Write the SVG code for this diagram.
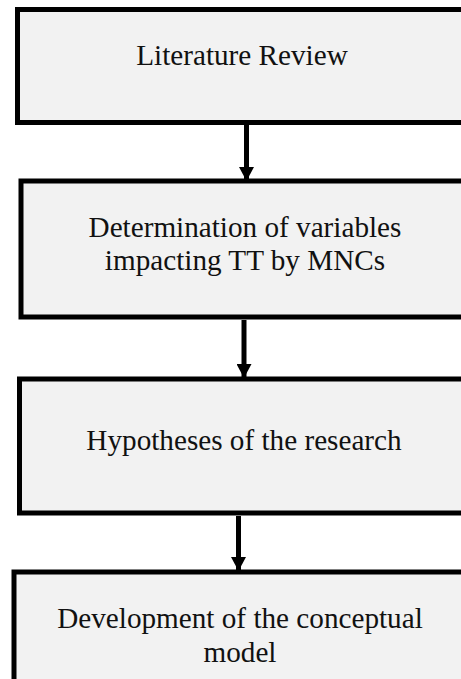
<svg xmlns="http://www.w3.org/2000/svg" width="461" height="679" viewBox="0 0 461 679">
<style>
.box{fill:#f2f2f2;stroke:#000;stroke-width:5}
.lbl{font-family:"Liberation Serif","Times New Roman",serif;font-size:29.2px;fill:#111;text-anchor:middle}
.conn{stroke:#000;stroke-width:5;fill:none}
</style>
<defs>
<marker id="ah" markerUnits="userSpaceOnUse" markerWidth="16" markerHeight="15" refX="14" refY="7.5" orient="auto">
<path d="M0,0 L14,7.5 L0,15 Z" fill="#000"/>
</marker>
</defs>
<rect width="461" height="679" fill="#fff"/>
<g id="node1"><rect class="box" x="17.5" y="9.5" width="470" height="113"/><text class="lbl" x="242" y="65">Literature Review</text></g>
<g id="node2"><rect class="box" x="21" y="181" width="470" height="136"/><text class="lbl" x="245" y="237">Determination of variables</text><text class="lbl" x="245" y="270">impacting TT by MNCs</text></g>
<g id="node3"><rect class="box" x="19.5" y="379" width="470" height="134"/><text class="lbl" x="244" y="450">Hypotheses of the research</text></g>
<g id="node4"><rect class="box" x="14" y="572" width="470" height="200"/><text class="lbl" x="240" y="628">Development of the conceptual</text><text class="lbl" x="240" y="662">model</text></g>
<g id="connectors">
<line class="conn" x1="246.5" y1="125" x2="246.5" y2="181" marker-end="url(#ah)"/>
<line class="conn" x1="244" y1="320" x2="244" y2="378" marker-end="url(#ah)"/>
<line class="conn" x1="238.5" y1="516" x2="238.5" y2="571" marker-end="url(#ah)"/>
</g>
</svg>
